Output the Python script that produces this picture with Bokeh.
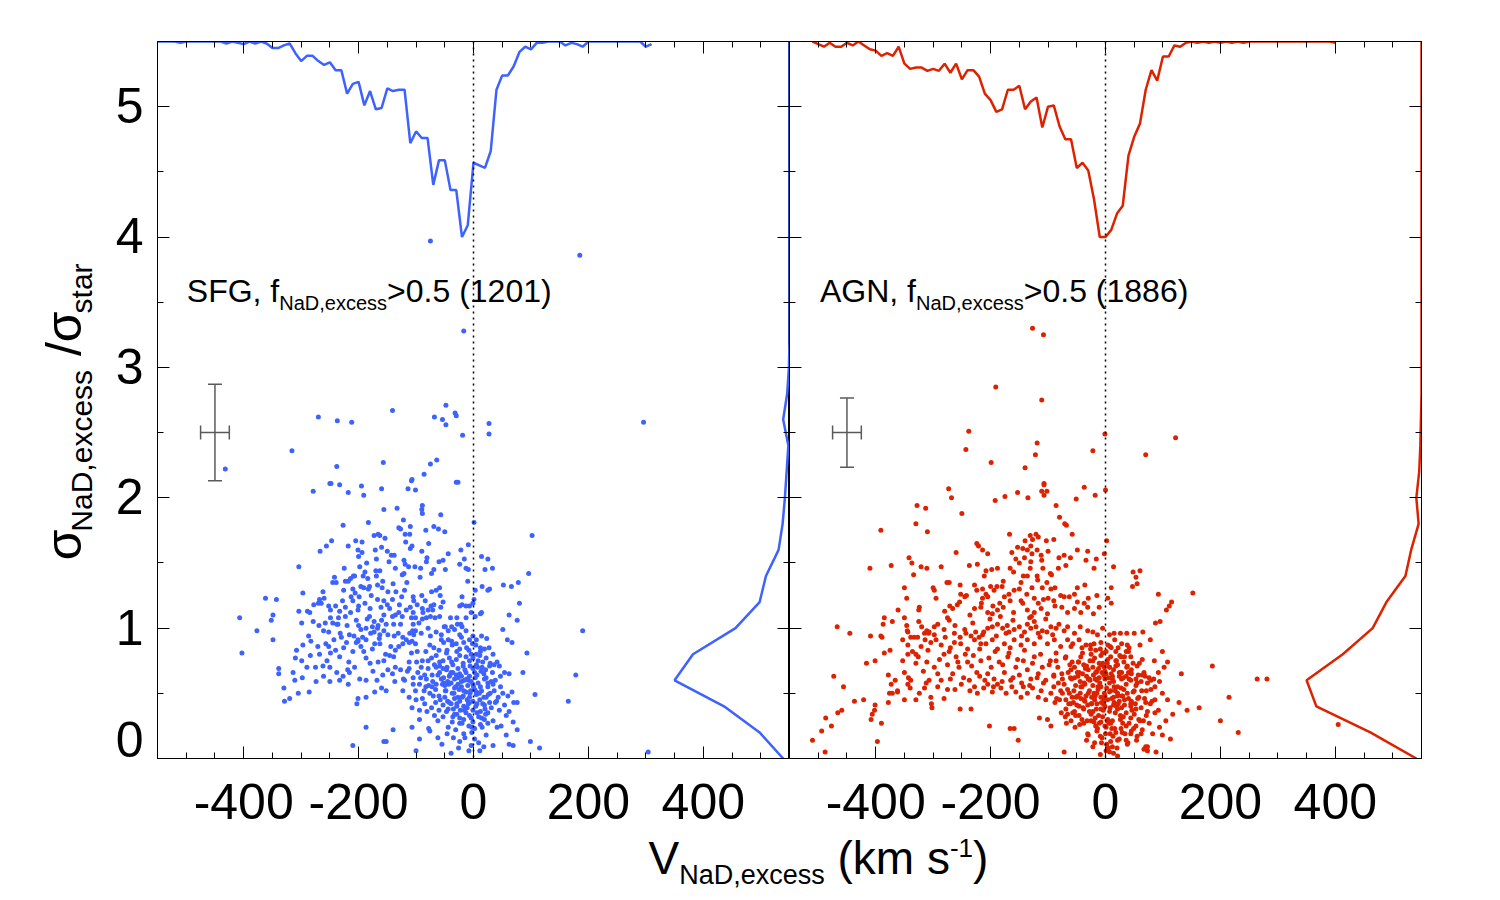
import math
from bokeh.plotting import figure
from bokeh.models import (Range1d, FixedTicker, LinearAxis, Label, Whisker, TeeHead,
                          Span, ColumnDataSource)
from bokeh.layouts import row, column
from bokeh.embed import file_html
from bokeh.resources import INLINE

FONT = "Liberation Sans"
BLUE = "#3d62ff"
RED = "#dd2200"
ERR = "#5a5a5a"

# ---------------- data ----------------
x_ticks = [-400, -200, 0, 200, 400]
x_tick_text = ["-400", "-200", "0", "200", "400"]
x_minor = [-500, -450, -350, -300, -250, -150, -100, -50, 50, 100, 150, 250, 300, 350, 450, 500]
y_ticks = [0, 1, 2, 3, 4, 5]
y_minor = [0.5, 1.5, 2.5, 3.5, 4.5]

# SFG scatter (V_NaD,excess [km/s], sigma_NaD,excess/sigma_star)
sfg_outer = [(-75,3.97),(185,3.86),(-17,3.28),(-141,2.67),(-48,2.71),(-68,2.62),(-54,2.60),(-48,2.56),
             (-32,2.65),(-30,2.63),(-19,2.48),(27,2.57),(27,2.49),(-270,2.62),(-237,2.59),(-212,2.58),
             (296,2.58),(-316,2.36),(-432,2.22),(-157,2.27),(-64,2.29),(-75,2.26),(-238,2.24),(-86,2.18),
             (-107,2.14),(-30,2.12),(-248,2.11),(190,0.98),(178,0.64),(304,0.05)]
sfg_high = [(-250,2.11),(-233,2.10),(-195,2.09),(-160,2.07),(-108,2.13),(-114,2.07),(-101,2.06),(-27,2.12),
            (-279,2.05),(-218,2.04),(-191,2.02),(-89,1.94),(-90,1.91),(-89,1.88),(-156,1.91),(-133,1.92),
            (-57,1.87),(-227,1.79),(-183,1.81),(-122,1.83),(-130,1.77),(-127,1.76),(-119,1.72),(-111,1.72),
            (-110,1.78),(-83,1.75),(-69,1.78),(-61,1.76),(-50,1.74),(-173,1.71),(-166,1.72),(-163,1.71),
            (-154,1.69),(-205,1.67),(-194,1.66),(-218,1.63),(-247,1.67),(-256,1.63),(-267,1.59),(-118,1.66),
            (-110,1.61),(-107,1.63),(-78,1.65),(-90,1.59),(-22,1.60),(-9,1.64),(1,1.81),(102,1.71)]
sfg_upper = [(-171,1.60),(-150,1.59),(-143,1.56),(-201,1.60),(-194,1.58),(-200,1.55),(-169,1.53),(-147,1.51),
             (-119,1.49),(-113,1.47),(-102,1.47),(-92,1.46),(-81,1.54),(-82,1.51),(-60,1.51),(-53,1.52),
             (-44,1.57),(-24,1.49),(-16,1.53),(-9,1.45),(-13,1.46),(14,1.55),(25,1.53),(20,1.45),(33,1.46),
             (-304,1.47),(-225,1.46),(-198,1.47),(-189,1.43),(-170,1.44),(-163,1.44),(-136,1.46),(-124,1.41),
             (-121,1.42),(-73,1.42),(-69,1.45),(-49,1.45),(96,1.42),(-242,1.39),(-223,1.36),(-209,1.40),
             (-214,1.38),(-207,1.40),(-184,1.38),(-169,1.40),(-10,1.36),(15,1.32),(28,1.30),(25,1.29),
             (52,1.33),(66,1.32),(78,1.35)]
sfg_mid = [(-245,1.35),(-239,1.35),(-218,1.36),(-226,1.29),(-210,1.30),(-196,1.32),(-191,1.31),(-181,1.32),
           (-183,1.30),(-167,1.33),(-159,1.31),(-149,1.28),(-140,1.34),(-135,1.28),(-120,1.29),(-105,1.24),
           (-90,1.25),(-84,1.21),(-73,1.28),(-65,1.29),(-59,1.31),(-58,1.25),(-20,1.24),(3,1.29),(1,1.22),
           (-297,1.27),(-362,1.23),(-343,1.22),(-268,1.22),(-260,1.23),(-213,1.24),(-199,1.24),(-210,1.21),
           (-189,1.19),(-167,1.22),(-156,1.21),(-141,1.22),(-129,1.18),(-110,1.16),(-104,1.21),(-89,1.15),
           (-79,1.14),(-74,1.17),(-69,1.18),(-53,1.20),(-24,1.17),(-20,1.18),(-13,1.17),(-7,1.17),(-1,1.19),
           (14,1.12),(80,1.19),(-278,1.18),(-270,1.19),(-265,1.19),(-252,1.17),(-240,1.17),(-223,1.16),
           (-200,1.17),(-304,1.13),(-289,1.13),(-249,1.14),(-233,1.13),(-201,1.14),(-180,1.15),(-161,1.16),
           (-146,1.15),(-105,1.12),(-88,1.12),(-71,1.14),(-57,1.16)]
sfg_one = [(-352,1.06),(-349,1.10),(-407,1.08),(-299,1.04),(-279,1.05),(-269,1.02),(-258,1.04),(-249,1.08),
           (-245,1.04),(-235,1.08),(-236,1.03),(-223,1.09),(-220,1.02),(-204,1.06),(-200,1.02),(-187,1.00),
           (-185,1.07),(-181,1.09),(-176,1.01),(-173,1.05),(-166,1.02),(-160,1.06),(-156,1.10),(-152,1.03),
           (-141,1.09),(-136,1.10),(-127,1.03),(-124,1.09),(-117,1.14),(-108,1.08),(-105,1.03),(-101,1.08),
           (-95,1.04),(-89,1.07),(-82,1.08),(-75,1.09),(-67,1.08),(-59,1.09),(-51,1.01),(-40,1.08),(-29,1.08),
           (-22,1.03),(-13,1.08),(-4,1.12),(3,1.09),(12,1.11),(62,1.10),(76,1.06),(-377,0.98),(-349,0.91),
           (-287,0.94),(-283,0.90),(-261,0.98),(-252,0.97),(-232,0.96),(-230,0.93),(-216,0.95),(-208,0.94),
           (-201,0.90),(-193,0.93),(-187,0.91),(-179,0.96),(-173,0.97),(-167,1.00),(-163,0.95),(-156,0.98),
           (-149,0.95),(-138,0.94),(-131,0.96),(-123,0.93),(-111,0.96),(-106,0.98),(-101,0.98),(-91,0.96),
           (-79,1.00),(-75,0.94),(-65,0.97),(-56,0.95),(-49,1.01),(-44,0.98),(-38,1.01),(-33,0.99),(-28,1.03),
           (-24,0.95),(-20,1.01),(-13,0.98),(-7,0.91),(-1,0.94),(5,0.91),(14,0.94),(23,0.92),(51,0.99),
           (59,0.91),(67,0.89)]
sfg_low = [(-403,0.81),(-339,0.69),(-339,0.65),(-310,0.77),(-308,0.83),(-299,0.75),(-297,0.87),(-284,0.79),
           (-268,0.80),(-262,0.71),(-257,0.88),(-252,0.86),(-249,0.81),(-240,0.83),(-233,0.78),(-226,0.85),
           (-217,0.74),(-216,0.66),(-210,0.82),(-204,0.89),(-201,0.91),(-196,0.86),(-191,0.82),(-187,0.77),
           (-180,0.73),(-172,0.88),(-166,0.74),(-163,0.88),(-156,0.75),(-153,0.80),(-146,0.79),(-139,0.78),
           (-136,0.83),(-130,0.86),(-123,0.88),(-117,0.91),(-112,0.74),(-107,0.90),(-101,0.88),(-98,0.82),
           (-89,0.75),(-83,0.82),(-76,0.87),(-69,0.85),(-60,0.83),(-56,0.91),(-52,0.89),(-44,0.91),(-37,0.87),
           (-30,0.88),(-24,0.84),(-17,0.89),(-8,0.83),(-2,0.88),(5,0.80),(12,0.85),(19,0.84),(27,0.85),
           (34,0.80),(41,0.74),(45,0.71),(29,0.73),(54,0.66),(62,0.65),(86,0.66),(93,0.81),(-314,0.66),
           (-298,0.62),(-290,0.70),(-275,0.70),(-261,0.63),(-250,0.70),(-238,0.66),(-227,0.63),(-219,0.68),
           (-207,0.70),(-198,0.61),(-187,0.60),(-175,0.67),(-168,0.60),(-158,0.64),(-149,0.68),(-141,0.65),
           (-136,0.70),(-127,0.68),(-122,0.61),(-112,0.69),(-105,0.62),(-97,0.66),(-91,0.70),(-85,0.64),
           (-79,0.69),(-72,0.64),(-65,0.70),(-59,0.66),(-52,0.62),(-46,0.70),(-39,0.66),(-33,0.61),(-27,0.69),
           (-21,0.63),(-15,0.68),(-9,0.60),(-6,0.71),(2,0.66),(8,0.75),(15,0.70),(22,0.62),(33,0.66),
           (38,0.60),(47,0.63)]
sfg_base = [(-330,0.54),(-320,0.46),(-329,0.44),(-305,0.50),(-286,0.51),(-311,0.60),(-274,0.59),(-250,0.59),
            (-233,0.60),(-218,0.57),(-203,0.42),(-201,0.46),(-187,0.47),(-172,0.51),(-160,0.54),(-152,0.52),
            (-137,0.59),(-123,0.52),(-120,0.60),(-112,0.47),(-105,0.57),(-101,0.52),(-94,0.57),(-89,0.46),
            (-83,0.55),(-76,0.50),(-71,0.59),(-66,0.53),(-60,0.48),(-54,0.57),(-49,0.52),(-43,0.57),(-37,0.50),
            (-31,0.55),(-27,0.47),(-21,0.59),(-17,0.52),(-11,0.45),(-6,0.50),(-1,0.57),(5,0.51),(12,0.55),
            (18,0.47),(25,0.58),(29,0.50),(36,0.52),(43,0.47),(51,0.50),(60,0.48),(67,0.51),(76,0.43),
            (107,0.49),(165,0.44),(-107,0.39),(-100,0.45),(-94,0.37),(-85,0.42),(-81,0.36),(-73,0.39),
            (-66,0.43),(-60,0.37),(-53,0.41),(-47,0.36),(-42,0.43),(-35,0.38),(-29,0.42),(-23,0.37),(-17,0.40),
            (-13,0.35),(-7,0.43),(-1,0.37),(6,0.42),(12,0.36),(19,0.41),(25,0.35),(31,0.39),(38,0.43),
            (45,0.37),(54,0.41),(62,0.36),(70,0.43),(-187,0.24),(-140,0.22),(-107,0.24),(-94,0.30),(-78,0.23),
            (-68,0.33),(-62,0.29),(-53,0.32),(-44,0.24),(-36,0.32),(-29,0.34),(-24,0.27),(-17,0.30),(-8,0.25),
            (-4,0.31),(2,0.23),(9,0.32),(15,0.24),(19,0.30),(25,0.27),(34,0.29),(41,0.24),(48,0.25),(57,0.33),
            (69,0.28),(76,0.22),(-210,0.10),(-156,0.13),(-152,0.13),(-100,0.06),(-94,0.15),(-76,0.21),
            (-62,0.16),(-55,0.11),(-46,0.19),(-39,0.04),(-35,0.16),(-26,0.08),(-24,0.13),(-17,0.19),(-8,0.06),
            (-4,0.10),(2,0.15),(11,0.06),(18,0.09),(22,0.18),(34,0.10),(57,0.18),(62,0.11),(69,0.10),
            (99,0.13),(115,0.08)]
sfg_core = [(-53,0.75),(-47,0.81),(-42,0.77),(-36,0.72),(-30,0.76),(-24,0.79),(-18,0.73),(-13,0.78),(-7,0.75),
            (-1,0.77),(5,0.72),(11,0.79),(16,0.74),(22,0.77),(-56,0.61),(-50,0.56),(-45,0.59),(-39,0.58),
            (-33,0.54),(-27,0.57),(-21,0.55),(-16,0.60),(-10,0.56),(-4,0.59),(2,0.53),(8,0.58),(14,0.52),
            (19,0.61),(25,0.55),(31,0.59),(-50,0.47),(-45,0.44),(-39,0.42),(-33,0.46),(-24,0.44),(-18,0.48),
            (-13,0.51),(-7,0.47),(-1,0.44),(5,0.49),(11,0.45),(16,0.42),(22,0.47),(28,0.43),(-33,0.34),
            (-24,0.31),(-16,0.37),(-7,0.33),(-1,0.28),(6,0.35),(14,0.31),(21,0.34),(-24,0.65),(-18,0.71),
            (-13,0.66),(-7,0.63),(-1,0.69),(6,0.64),(13,0.67),(21,0.68),(28,0.71),(-59,0.74),(-65,0.79),
            (-73,0.77),(-79,0.75),(-68,0.72),(-65,0.57),(-72,0.55),(-78,0.56),(-82,0.61),(-36,0.66),(-30,0.64),
            (-42,0.63),(-47,0.68),(-53,0.69),(-59,0.71)]
sfg_core2 = [(-48,0.52),(-41,0.64),(-34,0.50),(-27,0.62),(-20,0.47),(-12,0.61),(-5,0.52),(3,0.62),(10,0.50),
             (18,0.65),(26,0.49),(-44,0.38),(-37,0.28),(-29,0.40),(-20,0.27),(-11,0.39),(-3,0.24),(4,0.40),
             (12,0.26),(20,0.38),(-46,0.83),(-38,0.90),(-29,0.82),(-21,0.93),(-12,0.85),(-4,0.80),(4,0.87),
             (12,0.82),(-62,0.64),(-70,0.48),(-58,0.45),(-86,0.52),(-92,0.62),(-99,0.74),(-108,0.81),
             (-115,0.67),(34,0.57),(40,0.44),(47,0.55),(36,0.72),(-15,0.16),(-3,0.20),(9,0.12),(-31,0.22),
             (-9,0.42),(0,0.55),(7,0.70),(-25,0.53),(-38,0.74),(-52,0.58)]
sfg_left2 = [(-285,1.12),(-262,1.28),(-243,0.91),(-228,1.21),(-214,1.12),(-196,0.99),(-178,1.25),(-164,0.92),
             (-150,1.18),(-139,1.03),(-125,1.24),(-112,0.89),(-98,1.18),(-271,0.86),(-255,0.75),(-238,1.03),
             (-221,0.89),(-206,1.27),(-192,1.40),(-176,0.84),(-158,1.36),(-144,0.86),(-130,1.12),(-116,1.35),
             (-104,0.95),(-93,1.39),(-186,1.50),(-160,1.62),(-138,1.56),(-121,1.52)]

# AGN scatter
agn_outer = [(-127,3.30),(-108,3.25),(-191,2.85),(-111,2.75),(-238,2.51),(-1,2.49),(122,2.46),(-119,2.42),
             (-243,2.37),(-122,2.33),(-22,2.36),(70,2.33),(-199,2.27),(-140,2.23),(186,0.71),(215,0.47),
             (200,0.29),(231,0.20),(264,0.61),(281,0.61),(405,0.26)]
agn_high = [(-273,2.07),(-268,2.00),(-328,1.94),(-313,1.92),(-250,1.88),(-192,1.98),(-175,2.01),(-153,2.04),
            (-135,2.00),(-111,2.05),(-107,2.11),(-107,2.10),(-102,2.05),(-107,2.02),(-86,1.94),(-51,1.99),
            (-37,2.08),(-18,2.02),(0,2.06),(-330,1.80),(-310,1.74),(-391,1.75),(-80,1.85),(-71,1.80),(-68,1.79),
            (-58,1.72),(-167,1.72),(-131,1.71),(-121,1.72),(-117,1.70),(-140,1.67),(-127,1.68),(-103,1.67),
            (-90,1.68),(2,1.67),(-224,1.65),(-221,1.63),(-214,1.60),(-260,1.58),(-205,1.57),(-163,1.58),
            (-153,1.62),(-144,1.61),(-136,1.60),(-130,1.63),(-119,1.60),(-100,1.59)]
agn_upper = [(-410,1.46),(-373,1.48),(-342,1.54),(-337,1.50),(-321,1.47),(-311,1.46),(-334,1.41),(-286,1.47),
             (-237,1.48),(-223,1.49),(-208,1.44),(-211,1.40),(-198,1.45),(-188,1.46),(-166,1.46),(-156,1.53),
             (-150,1.50),(-141,1.54),(-130,1.51),(-128,1.57),(-112,1.56),(-111,1.52),(-109,1.46),(-94,1.41),
             (-82,1.46),(-81,1.54),(-69,1.48),(-72,1.56),(-61,1.54),(-49,1.60),(-31,1.59),(-34,1.52),(-16,1.53),
             (-2,1.57),(14,1.47),(-20,1.46),(48,1.43),(60,1.44),(53,1.39),(-96,1.42)]
agn_mid = [(-350,1.31),(-346,1.23),(-361,1.14),(-324,1.16),(-325,1.14),(-300,1.31),(-298,1.29),(-295,1.23),
           (-276,1.35),(-272,1.35),(-253,1.33),(-252,1.26),(-254,1.20),(-245,1.24),(-242,1.25),(-271,1.17),
           (-266,1.15),(-228,1.33),(-224,1.29),(-214,1.30),(-208,1.26),(-194,1.29),(-189,1.32),(-180,1.32),
           (-214,1.23),(-205,1.24),(-196,1.17),(-184,1.19),(-176,1.24),(-168,1.26),(-159,1.29),(-150,1.30),
           (-147,1.21),(-166,1.21),(-143,1.40),(-136,1.40),(-128,1.31),(-118,1.37),(-110,1.31),(-95,1.30),
           (-137,1.26),(-124,1.23),(-117,1.19),(-108,1.22),(-100,1.23),(-90,1.21),(-88,1.17),(-78,1.25),
           (-72,1.24),(-63,1.24),(-54,1.26),(-49,1.31),(-36,1.33),(-49,1.20),(-37,1.19),(-30,1.23),(-15,1.25),
           (4,1.23),(10,1.19),(10,1.31),(47,1.32),(55,1.34),(92,1.26),(115,1.20),(111,1.17),(106,1.14),
           (152,1.27),(-228,1.15),(-217,1.16),(-205,1.12),(-188,1.14),(-136,1.14),(-124,1.12),(-112,1.15),
           (-101,1.11),(-76,1.16),(-66,1.12),(-54,1.15),(-43,1.12),(-31,1.16),(-21,1.11),(-11,1.16)]
agn_one = [(-467,1.01),(-445,0.96),(-409,0.94),(-391,0.94),(-389,0.93),(-387,1.03),(-385,1.08),(-371,1.05),
           (-350,1.08),(-346,1.02),(-344,0.97),(-339,0.93),(-333,0.93),(-327,0.93),(-325,1.05),(-315,0.96),
           (-311,0.98),(-308,0.96),(-307,0.97),(-298,1.01),(-292,1.03),(-275,1.08),(-272,1.06),(-263,0.96),
           (-253,0.93),(-243,0.96),(-234,0.94),(-226,0.97),(-220,0.93),(-212,0.97),(-205,1.00),(-197,1.01),
           (-188,1.03),(-179,1.00),(-173,0.96),(-168,0.97),(-159,0.99),(-150,1.01),(-141,0.97),(-136,1.03),
           (-130,1.00),(-124,1.05),(-117,0.96),(-110,0.98),(-102,0.97),(-95,1.01),(-86,1.00),(-81,1.03),
           (-72,0.98),(-66,1.01),(-54,0.96),(-44,1.01),(-31,0.98),(-22,0.97),(-14,0.95),(-5,1.00),(7,0.95),
           (15,0.96),(26,0.96),(37,0.96),(50,0.96),(65,0.97),(78,0.91),(87,1.04),(95,1.05),
           (-353,0.91),(-344,0.87),(-336,0.82),(-321,0.86),(-314,0.91),(-304,0.89),(-295,0.91),(-286,0.87),
           (-279,0.93),(-270,0.85),(-263,0.89),(-252,0.88),(-240,0.84),(-228,0.91),(-217,0.88),(-208,0.88),
           (-197,0.91),(-188,0.84),(-176,0.88),(-166,0.85),(-159,0.91),(-147,0.87),(-136,0.91),(-124,0.88),
           (-114,0.93),(-101,0.88),(-89,0.91),(-78,0.86),(-66,0.91),(-57,0.88),(-46,0.91),(-34,0.87),
           (-20,0.88),(-8,0.89),(4,0.87),(16,0.91),(28,0.88),(41,0.85),(60,0.87),(99,0.82)]
agn_low = [(-473,0.63),(-456,0.55),(-437,0.44),(-421,0.45),(-416,0.73),(-401,0.75),(-385,0.81),(-375,0.83),
           (-378,0.64),(-373,0.57),(-376,0.50),(-366,0.60),(-362,0.51),(-353,0.75),(-350,0.66),(-344,0.80),
           (-343,0.62),(-339,0.60),(-330,0.73),(-326,0.78),(-317,0.67),(-311,0.74),(-307,0.60),(-298,0.70),
           (-292,0.65),(-286,0.60),(-281,0.80),(-275,0.72),(-266,0.65),(-260,0.78),(-255,0.70),(-247,0.62),
           (-240,0.74),(-237,0.60),(-230,0.79),(-224,0.66),(-217,0.75),(-210,0.60),(-205,0.65),(-199,0.70),
           (-194,0.61),(-185,0.74),(-176,0.66),(-170,0.78),(-165,0.60),(-156,0.70),(-150,0.64),(-143,0.75),
           (-136,0.68),(-130,0.61),(-124,0.78),(-117,0.65),(-110,0.70),(-104,0.60),(-96,0.75),(-90,0.64),
           (-83,0.70),(-75,0.61),(-69,0.78),(-60,0.68),(-54,0.62),(-47,0.74),(-40,0.65),(-34,0.70),(-28,0.61),
           (-22,0.75),(-17,0.66),(-11,0.62),(-5,0.73),(1,0.65),(7,0.70),(12,0.61),(18,0.75),(24,0.66),
           (31,0.62),(38,0.71),(45,0.65),(53,0.61),(59,0.73),(67,0.66),(76,0.62),(85,0.75),(92,0.66),
           (102,0.70),(108,0.74),(132,0.65)]
agn_base = [(-408,0.30),(-406,0.34),(-402,0.37),(-401,0.41),(-397,0.13),(-390,0.27),
            (-378,0.43),(-371,0.50),(-362,0.52),(-350,0.45),(-344,0.57),(-340,0.54),(-330,0.45),(-324,0.50),
            (-315,0.54),(-304,0.47),(-302,0.39),(-303,0.42),(-281,0.46),(-275,0.53),(-262,0.53),(-253,0.38),
            (-234,0.38),(-228,0.55),(-223,0.50),(-212,0.54),(-205,0.57),(-197,0.51),(-188,0.57),(-182,0.54),
            (-173,0.50),(-163,0.55),(-156,0.51),(-147,0.47),(-143,0.55),(-136,0.50),(-127,0.54),(-117,0.47),
            (-112,0.52),(-104,0.45),(-95,0.50),(-85,0.46),(-78,0.52),(-69,0.45),(-63,0.50),(-56,0.43),
            (-49,0.48),(-43,0.55),(-37,0.45),(-30,0.50),(-24,0.42),(-18,0.48),(-13,0.55),(-7,0.43),(-2,0.50),
            (4,0.45),(9,0.52),(15,0.43),(21,0.48),(27,0.54),(33,0.45),(38,0.50),(44,0.42),(50,0.52),(56,0.46),
            (63,0.52),(70,0.43),(79,0.53),(86,0.45),(94,0.59),(99,0.50),(108,0.45),(128,0.43),(142,0.37),
            (163,0.39),(-510,0.14),(-488,0.05),(-494,0.21),(-487,0.31),(-477,0.25),(-466,0.35),(-459,0.37),
            (-202,0.25),(-166,0.23),(-159,0.23),(-152,0.14),(-115,0.31),(-101,0.30),(-95,0.25),(-72,0.05),
            (-66,0.34),(-60,0.29),(-53,0.24),(-46,0.33),(-38,0.27),(-31,0.19),(-25,0.34),(-20,0.28),(-14,0.23),
            (-9,0.17),(-5,0.32),(-1,0.25),(2,0.11),(5,0.08),(8,0.19),(12,0.29),(16,0.23),(21,0.14),(26,0.33),
            (30,0.27),(34,0.19),(38,0.11),(44,0.31),(49,0.23),(55,0.17),(60,0.29),(64,0.22),(70,0.09),(73,0.06),
            (76,0.27),(82,0.19),(88,0.05),(94,0.24),(99,0.18),(105,0.29),(113,0.15),(117,0.34),
            (7,0.05),(12,0.09),(21,0.02),(67,0.07),(73,0.09)]
agn_core = [(-72,0.57),(-66,0.53),(-59,0.61),(-52,0.56),(-44,0.59),(-37,0.58),(-30,0.61),(-22,0.56),(-15,0.60),
            (-8,0.55),(-1,0.61),(7,0.58),(14,0.59),(21,0.55),(28,0.61),(36,0.57),(44,0.60),(53,0.56),(62,0.59),
            (73,0.58),(-69,0.38),(-61,0.42),(-54,0.36),(-46,0.40),(-38,0.38),(-31,0.41),(-22,0.36),(-15,0.42),
            (-8,0.38),(-1,0.40),(7,0.36),(14,0.41),(21,0.38),(28,0.39),(36,0.35),(44,0.40),(53,0.38),(62,0.39),
            (73,0.36),(-54,0.70),(-46,0.66),(-38,0.72),(-30,0.68),(-22,0.70),(-15,0.67),(-8,0.72),(-1,0.67),
            (7,0.70),(14,0.68),(21,0.72),(28,0.66),(37,0.70),(45,0.68),(55,0.71),(-25,0.29),(-17,0.25),(-8,0.28),
            (1,0.24),(9,0.27),(18,0.20),(27,0.23),(36,0.25),(44,0.19),(53,0.25),(62,0.19),(-25,0.80),(-17,0.83),
            (-8,0.79),(1,0.82),(9,0.78),(18,0.82),(27,0.78),(36,0.82),(44,0.78),(-15,0.50),(-8,0.47),(-1,0.48),
            (7,0.51),(14,0.47),(21,0.50),(28,0.48),(-24,0.47),(-34,0.48),(-43,0.46),(-70,0.32),(-57,0.35),
            (-41,0.30),(-28,0.36),(-12,0.33),(3,0.29),(17,0.35),(31,0.32),(46,0.37),(58,0.30),(71,0.33),(86,0.35),
            (-80,0.45),(-64,0.42),(-51,0.47),(-36,0.44),(-19,0.45),(-4,0.42),(11,0.46),(24,0.44),(40,0.46),
            (52,0.42),(68,0.46),(81,0.44),(-90,0.63),(-76,0.65),(-61,0.62),(-49,0.66),(-33,0.63),(-18,0.61),
            (-3,0.64),(12,0.63),(26,0.66),(41,0.61),(57,0.64),(69,0.63),(84,0.61),(-86,0.75),(-70,0.77),
            (-58,0.74),(-43,0.78),(-27,0.75),(-11,0.73),(4,0.76),(19,0.75),(33,0.78),(48,0.73),(64,0.76),
            (-33,0.14),(-19,0.12),(-6,0.16),(9,0.13),(24,0.15),(39,0.12),(54,0.14),(-60,0.86),(-41,0.85),
            (-26,0.87),(-9,0.84),(8,0.86),(22,0.85),(38,0.87)]
agn_core2 = [(-55,0.52),(-48,0.63),(-41,0.55),(-35,0.69),(-28,0.52),(-21,0.64),(-13,0.53),(-6,0.66),(2,0.54),
             (10,0.65),(17,0.52),(24,0.63),(32,0.53),(40,0.66),(48,0.51),(-52,0.33),(-45,0.26),(-39,0.39),
             (-32,0.29),(-25,0.42),(-18,0.31),(-11,0.27),(-4,0.37),(4,0.30),(11,0.23),(19,0.40),(26,0.30),
             (33,0.41),(41,0.27),(50,0.34),(-47,0.74),(-40,0.81),(-33,0.71),(-26,0.84),(-19,0.77),(-12,0.69),
             (-5,0.81),(3,0.73),(10,0.85),(18,0.71),(25,0.79),(32,0.74),(40,0.82),(-30,0.18),(-22,0.09),
             (-15,0.21),(-7,0.12),(0,0.19),(6,0.27),(13,0.17),(20,0.08),(29,0.20),(36,0.14),(45,0.21),
             (-65,0.66),(-58,0.47),(-62,0.72),(-75,0.50),(-82,0.58),(-88,0.43),(-68,0.27),(-77,0.35),(58,0.47),
             (64,0.64),(71,0.52),(79,0.60),(66,0.29),(78,0.42),(86,0.55),(92,0.37),(-3,0.45),(-10,0.58),
             (5,0.62),(15,0.55),(-20,0.50),(30,0.48),(-36,0.57),(-44,0.50),(36,0.63),(45,0.44),(-27,0.60),
             (22,0.42),(-16,0.38),(1,0.06),(-9,0.03),(14,0.04),(-2,0.70),(8,0.39),(-50,0.41),(55,0.58)]
agn_left2 = [(-345,0.98),(-320,1.01),(-298,0.95),(-281,0.99),(-262,1.02),(-245,0.99),(-231,1.04),(-214,0.95),
             (-201,1.07),(-190,0.94),(-183,1.09),(-171,1.02),(-161,1.06),(-146,0.94),(-132,1.08),(-121,1.01),
             (-104,1.07),(-92,0.95),(-330,0.80),(-309,0.83),(-289,0.76),(-272,0.82),(-257,0.74),(-244,0.80),
             (-233,0.71),(-219,0.84),(-203,0.77),(-192,0.82),(-179,0.72),(-168,0.81),(-153,0.76),(-141,0.83),
             (-127,0.73),(-113,0.80),(-98,0.72),(-86,0.81),(-280,1.13),(-258,1.18),(-236,1.10),(-216,1.19),
             (-197,1.11),(-178,1.16),(-160,1.12),(-144,1.19),(-129,1.09),(-312,0.58),(-292,0.55),(-270,0.61),
             (-251,0.57),(-236,0.52),(-219,0.63),(-195,0.55),(-180,0.59),(-161,0.62),(-146,0.58),(-132,0.56),
             (-119,0.62),(-108,0.58),(-90,0.55),(-200,1.32),(-178,1.36),(-160,1.43),(-147,1.35),(-131,1.46),
             (-119,1.40),(-102,1.35),(-88,1.31)]

# velocity histograms (10 km/s bins): depth below the top axis, in y-axis units
sfg_vbins = list(range(-550, 320, 10))
sfg_vdepth = [0, 0, 0, 0, 0.01, 0, 0, 0, 0, 0,
              0, 0, 0.015, 0, 0.01, 0.02, 0, 0.015, 0, 0.015,
              0.05, 0.05, 0.03, 0.015, 0.09, 0.15, 0.11, 0.11, 0.15, 0.18,
              0.16, 0.22, 0.22, 0.40, 0.325, 0.31, 0.49, 0.38, 0.52, 0.51,
              0.36, 0.38, 0.37, 0.37, 0.78, 0.69, 0.74, 0.74, 1.10, 0.91,
              0.91, 1.14, 1.14, 1.50, 1.41, 0.93, 0.95, 0.97, 0.84, 0.37,
              0.26, 0.26, 0.19, 0.08, 0.04, 0.06, 0.01, 0.01, 0, 0,
              0, 0.03, 0.01, 0.02, 0.04, 0, 0, 0, 0, 0,
              0, 0, 0, 0, 0, 0.04, 0.02]
agn_vbins = list(range(-510, 410, 10))
agn_vdepth = [0, 0.02, 0.04, 0.01, 0.04, 0.04, 0.01, 0.03, 0, 0.03,
              0.06, 0.07, 0.11, 0.09, 0.11, 0.04, 0.17, 0.21, 0.20, 0.20,
              0.225, 0.21, 0.225, 0.17, 0.24, 0.17, 0.29, 0.22, 0.22, 0.27,
              0.40, 0.45, 0.54, 0.52, 0.37, 0.37, 0.34, 0.52, 0.46, 0.43,
              0.66, 0.50, 0.49, 0.65, 0.75, 0.75, 0.97, 0.93, 0.99, 1.21,
              1.50, 1.50, 1.445, 1.32, 1.26, 0.875, 0.73, 0.63, 0.37, 0.22,
              0.30, 0.115, 0.115, 0.03, 0.04, 0.01, 0, 0.01, 0, 0.01,
              0, 0.01, 0, 0.01, 0, 0.01, 0, 0, 0, 0,
              0, 0, 0, 0, 0, 0, 0, 0, 0, 0,
              0, 0.01]

# sigma-ratio histograms (0.2 bins): normalised height (peak = 1)
sig_bins = [round(0.2 * i, 1) for i in range(29)]
sfg_sig_h = [0.055, 0.26, 0.57, 1.0, 0.84, 0.47, 0.26, 0.205, 0.095, 0.06, 0.04, 0.025, 0.01, 0.055,
             0.02, 0.005, 0, 0, 0, 0, 0, 0, 0, 0, 0, 0, 0, 0, 0]
agn_sig_h = [0.045, 0.445, 0.915, 1.0, 0.685, 0.425, 0.305, 0.14, 0.09, 0.025, 0.045, 0.02, 0.01, 0.005,
             0, 0, 0, 0, 0, 0, 0, 0, 0, 0, 0, 0, 0, 0, 0]

# typical error bars: (v, sigma, dv, dsigma)
sfg_err = (-450, 2.5, 25, 0.37)
agn_err = (-450, 2.5, 25, 0.265)

sfg_label = ("SFG, f", "NaD,excess", ">0.5 (1201)")
agn_label = ("AGN, f", "NaD,excess", ">0.5 (1886)")

X0, X1, Y0, Y1 = -550, 550, 0, 5.5
SIG_HIST_SCALE = 200.0  # km/s per unit of normalised sigma histogram

# ---------------- layout constants (px) ----------------
TOP, BOTTOM, FRAME_W, FRAME_H = 41, 4, 632, 717
PANEL_H = TOP + FRAME_H + BOTTOM          # 762
TICK_H = 70                               # strip with the x tick labels
XLAB_H = 66                               # strip with the x-axis title
YLAB_W = 152
F1_LEFT = 5
F2_RIGHT = 52
TOTAL_W = YLAB_W + F1_LEFT + FRAME_W + FRAME_W + F2_RIGHT
BASE_K = 0.38   # rendered baseline sits this many em below the anchor; compensate

# ---------------- text helper ----------------
CW = {' ': .278, ',': .278, '.': .278, '/': .278, '(': .333, ')': .333, '-': .333, '>': .584,
      'A': .667, 'D': .722, 'F': .611, 'G': .778, 'N': .722, 'S': .667, 'V': .667,
      'a': .556, 'c': .5, 'e': .556, 'f': .278, 'k': .5, 'm': .833, 'r': .333, 's': .5,
      't': .278, 'x': .5, '\u03c3': .574}


def tw(s, size):
    return sum(CW.get(ch, .556) for ch in s) * size


def text_label(p, x, y, text, size, along=0.0, down=0.0, align="left", angle=0.0):
    d = down - BASE_K * size
    if angle == 0.0:
        xo, yo = along, -d
    else:  # rotated 90 deg counter-clockwise
        xo, yo = d, along
    p.add_layout(Label(x=x, y=y, text=text, angle=angle, x_offset=xo, y_offset=yo,
                       text_font=FONT, text_font_size=f"{size}px", text_color="black",
                       text_align=align, text_baseline="alphabetic"))


def add_pieces(p, pieces, x, y, angle=0.0):
    adv = 0.0
    for text, size, shift in pieces:
        lead = len(text) - len(text.lstrip(' '))
        body = text.strip(' ')
        text_label(p, x, y, body, size, along=adv + tw(' ' * lead, size), down=shift, angle=angle)
        adv += tw(text, size)


def add_axes(p):
    for side in ("below", "above", "left", "right"):
        horiz = side in ("below", "above")
        ticks = x_ticks if horiz else y_ticks
        ax = LinearAxis(ticker=FixedTicker(ticks=ticks, minor_ticks=x_minor if horiz else y_minor))
        ax.major_tick_in = 12
        ax.major_tick_out = 0
        ax.minor_tick_in = 6
        ax.minor_tick_out = 0
        for attr in ("axis_line", "major_tick_line", "minor_tick_line"):
            setattr(ax, attr + "_color", "black")
            setattr(ax, attr + "_width", 1)
        ax.major_label_overrides = {t: "" for t in ticks}
        ax.major_label_text_color = None
        ax.major_label_text_font_size = "1px"
        ax.major_label_standoff = 0
        p.add_layout(ax, side)


def bare_figure(**kw):
    p = figure(output_backend="svg", toolbar_location=None, x_axis_location=None,
               y_axis_location=None, background_fill_color="white", border_fill_color="white", **kw)
    p.grid.visible = False
    return p


def panel(width, left_border, right_border, color, pts_groups, vbins, vdepth, sig_h, err, label, label_x):
    p = bare_figure(width=width, height=PANEL_H, x_range=Range1d(X0, X1), y_range=Range1d(Y0, Y1),
                    min_border_left=left_border, min_border_right=right_border,
                    min_border_top=TOP, min_border_bottom=BOTTOM,
                    outline_line_color="black", outline_line_width=1)
    add_axes(p)
    v = [q[0] for g in pts_groups for q in g]
    s = [q[1] for g in pts_groups for q in g]
    p.scatter(x=v, y=s, size=5, fill_color=color, line_color=None)
    p.add_layout(Span(location=0, dimension="height", line_color="black", line_dash="2 4",
                      line_width=1.5))
    p.line(x=vbins, y=[Y1 - d for d in vdepth], line_color=color, line_width=2.5)
    p.line(x=[X1 - SIG_HIST_SCALE * h for h in sig_h], y=sig_bins, line_color=color, line_width=2.5)
    ev, es, edv, eds = err
    src = ColumnDataSource(dict(v=[ev], s=[es], vl=[ev - edv], vu=[ev + edv], sl=[es - eds], su=[es + eds]))
    for base, lo, hi, dim in (("s", "vl", "vu", "width"), ("v", "sl", "su", "height")):
        p.add_layout(Whisker(source=src, base=base, lower=lo, upper=hi, dimension=dim,
                             line_color=ERR, line_width=1.5, level="glyph",
                             lower_head=TeeHead(size=14, line_color=ERR, line_width=1.5),
                             upper_head=TeeHead(size=14, line_color=ERR, line_width=1.5)))
    main1, sub, main2 = label
    add_pieces(p, [(main1, 32, 0), (sub, 20, 7), (main2, 32, 0)], label_x, 3.49)
    return p


def tick_strip(width, left_border, right_border):
    # same horizontal data scale as the panel above it; vertical units are pixels
    p = bare_figure(width=width, height=TICK_H, x_range=Range1d(X0, X1), y_range=Range1d(0, TICK_H),
                    min_border_left=left_border, min_border_right=right_border,
                    min_border_top=0, min_border_bottom=0, outline_line_color=None)
    for t, txt in zip(x_ticks, x_tick_text):
        text_label(p, t, 12, txt, 50, align="center")
    return p


f1 = panel(F1_LEFT + FRAME_W, F1_LEFT, 0, BLUE,
           [sfg_outer, sfg_high, sfg_upper, sfg_mid, sfg_one, sfg_low, sfg_base, sfg_core, sfg_core2, sfg_left2],
           sfg_vbins, sfg_vdepth, sfg_sig_h, sfg_err, sfg_label, -499)
f2 = panel(FRAME_W + F2_RIGHT, 0, F2_RIGHT, RED,
           [agn_outer, agn_high, agn_upper, agn_mid, agn_one, agn_low, agn_base, agn_core, agn_core2, agn_left2],
           agn_vbins, agn_vdepth, agn_sig_h, agn_err, agn_label, -497)
t1 = tick_strip(F1_LEFT + FRAME_W, F1_LEFT, 0)
t2 = tick_strip(FRAME_W + F2_RIGHT, 0, F2_RIGHT)

# strip left of the panels (full height of panels + tick strip): y tick labels and the
# rotated y-axis title, on the same vertical data scale as the panels
per_px = (Y1 - Y0) / FRAME_H
fy = bare_figure(width=YLAB_W, height=PANEL_H + TICK_H, x_range=Range1d(0, YLAB_W),
                 y_range=Range1d(Y0 - (BOTTOM + TICK_H) * per_px, Y1 + TOP * per_px),
                 min_border=0, outline_line_color=None)
for t in y_ticks:
    # "0" rests on the bottom axis; the others are centred on their ticks
    text_label(fy, YLAB_W - 9, t, str(t), 50, down=0 if t == Y0 else 0.358 * 50, align="right")
add_pieces(fy, [("\u03c3", 50, 0), ("NaD,excess", 30, 10), (" /", 50, 0), ("\u03c3", 50, 0), ("star", 30, 10)],
           82, 1.52, angle=math.pi / 2)

# strip below: x-axis title
fx = bare_figure(width=TOTAL_W, height=XLAB_H, x_range=Range1d(0, TOTAL_W), y_range=Range1d(0, XLAB_H),
                 min_border=0, outline_line_color=None)
add_pieces(fx, [("V", 46, 0), ("NaD,excess", 27, 10), (" (km s", 46, 0), ("-1", 26, -18), (")", 46, 0)],
           648, 23)

layout = column(row(fy, column(row(f1, f2), row(t1, t2))), fx)
open("out.html", "w").write(file_html(layout, INLINE))
